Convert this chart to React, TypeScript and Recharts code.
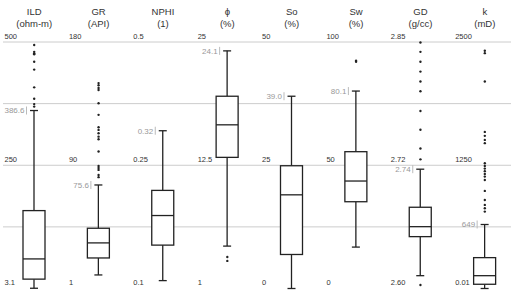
import React from 'react';
import { ComposedChart, Bar, Scatter, XAxis, YAxis, CartesianGrid } from 'recharts';

// one column per log curve, each with its own scale
const names = ['ILD', 'GR', 'NPHI', 'ϕ', 'So', 'Sw', 'GD', 'k'];
const units = ['(ohm-m)', '(API)', '(1)', '(%)', '(%)', '(%)', '(g/cc)', '(mD)'];
const scaleMin = [0, 0, 0, 0, 0, 0, 2.6, 0];
const scaleMax = [500, 180, 0.5, 25, 50, 100, 2.85, 2500];
const tickTop = ['500', '180', '0.5', '25', '50', '100', '2.85', '2500'];
const tickMid = ['250', '90', '0.25', '12.5', '25', '50', '2.72', '1250'];
const tickBottom = ['3.1', '1', '0.1', '1', '0', '0', '2.60', '0.01'];

const whiskerLow = [0.5, 9.9, 0.016, 4.3, 0, 16.8, 2.613, 0.01];
const q1 = [19, 22.3, 0.088, 13.3, 6.9, 35.2, 2.6526, 43];
const median = [60, 33.3, 0.148, 16.6, 19.0, 43.6, 2.6627, 130];
const q3 = [158, 44, 0.199, 19.5, 24.9, 55.5, 2.6824, 313];
const whiskerHigh = [361, 75.6, 0.32, 24.1, 39.0, 80.1, 2.721, 649];
const whiskerLabel = ['386.6', '75.6', '0.32', '24.1', '39.0', '80.1', '2.74', '649'];

const ildOut = [494, 480, 477, 475, 460, 444, 408, 385, 374, 369];
const grOut = [150, 148.4, 146.5, 145, 135.3, 126.8, 117.8, 115.8, 113.4, 110.9, 109, 100, 89.5, 88, 86.6, 82.9, 81.3];
const nphiOut: number[] = [];
const phiOut = [3.2, 2.8];
const soOut: number[] = [];
const swOut = [92.4, 92.0];
const gdOut = [2.8495, 2.84, 2.83, 2.82, 2.81, 2.8, 2.78, 2.761, 2.742, 2.731, 2.6035];
const kOut = [2411, 2387, 2099, 1588, 1548, 1507, 1474, 1271, 1243, 1216, 1190, 1162, 1135, 1101, 990, 898, 848, 814, 780];
const outliers = [ildOut, grOut, nphiOut, phiOut, soOut, swOut, gdOut, kOut];

const FONT = '"Liberation Sans", Arial, sans-serif';

const norm = (i: number, v: number) => (v - scaleMin[i]) / (scaleMax[i] - scaleMin[i]);

const data = names.map((name, i) => ({
  name,
  idx: i,
  range: [norm(i, whiskerLow[i]), norm(i, whiskerHigh[i])],
  lo: norm(i, whiskerLow[i]),
  q1: norm(i, q1[i]),
  med: norm(i, median[i]),
  q3: norm(i, q3[i]),
  hi: norm(i, whiskerHigh[i]),
}));

const outlierPoints = names.flatMap((name, i) => outliers[i].map((v) => ({ name, f: norm(i, v) })));

const BoxShape = (props: any) => {
  const { x, y, width, height, payload } = props;
  const { lo, hi, idx } = payload;
  const top = Math.min(y, y + height);
  const bot = Math.max(y, y + height);
  // map a 0..1 fraction to pixels using the bar's own extent
  const pix = (f: number) => top + ((hi - f) / (hi - lo)) * (bot - top);
  const cx = x + width / 2;
  const stroke = '#222';
  const cap = 4;
  return (
    <g>
      <line x1={cx} x2={cx} y1={pix(hi)} y2={pix(payload.q3)} stroke={stroke} strokeWidth={1.3} />
      <line x1={cx} x2={cx} y1={pix(payload.q1)} y2={pix(lo)} stroke={stroke} strokeWidth={1.3} />
      <line x1={cx - cap} x2={cx + cap} y1={pix(hi)} y2={pix(hi)} stroke={stroke} strokeWidth={1.3} />
      <line x1={cx - cap} x2={cx + cap} y1={pix(lo)} y2={pix(lo)} stroke={stroke} strokeWidth={1.3} />
      <rect x={x} y={pix(payload.q3)} width={width} height={pix(payload.q1) - pix(payload.q3)} fill="#fff" stroke={stroke} strokeWidth={1.3} />
      <line x1={x} x2={x + width} y1={pix(payload.med)} y2={pix(payload.med)} stroke={stroke} strokeWidth={1.3} />
      <text x={cx - 29.5} y={pix(1) - 3.5} fontSize={7.5} fill="#333" fontFamily={FONT}>{tickTop[idx]}</text>
      <text x={cx - 29.5} y={pix(0.5) - 3.5} fontSize={7.5} fill="#333" fontFamily={FONT}>{tickMid[idx]}</text>
      <text x={cx - 29.5} y={pix(0) - 3.5} fontSize={7.5} fill="#333" fontFamily={FONT}>{tickBottom[idx]}</text>
      <text x={cx - 9.5} y={pix(hi) + 2.8} fontSize={8} fill="#999" textAnchor="end" fontFamily={FONT}>{whiskerLabel[idx]}</text>
      <line x1={cx - 7.5} x2={cx - 7.5} y1={pix(hi) - 4} y2={pix(hi) + 4} stroke="#bbb" strokeWidth={1} />
    </g>
  );
};

const TitleTick = (props: any) => {
  const { x, payload } = props;
  const i = names.indexOf(payload.value);
  return (
    <g>
      <text x={x} y={15} textAnchor="middle" fontSize={9.5} fill="#333" fontFamily={FONT}>{payload.value}</text>
      <text x={x} y={26.5} textAnchor="middle" fontSize={9.5} fill="#333" fontFamily={FONT}>{units[i]}</text>
    </g>
  );
};

const Dot = (props: any) => <circle cx={props.cx} cy={props.cy} r={1.2} fill="#222" />;

const App: React.FC = () => {
  return (
    <div style={{ position: 'absolute', left: 0, top: 0, background: '#fff' }}>
      <ComposedChart width={522} height={295} data={data} margin={{ top: 12, right: 5, bottom: 6.5, left: 2 }}>
        <CartesianGrid
          vertical={false}
          horizontalValues={[0, 0.25, 0.5, 0.75, 1]}
          horizontal={(p: any) => (
            <line key={p.key ?? `h-${p.index}`} x1={p.x1 + 1} x2={p.x2 - 6} y1={p.y1} y2={p.y2} stroke="#ccc" strokeWidth={1} />
          )}
        />
        <XAxis
          dataKey="name"
          orientation="top"
          height={30}
          allowDuplicatedCategory={false}
          axisLine={false}
          tickLine={false}
          interval={0}
          tick={<TitleTick />}
        />
        <YAxis type="number" domain={[0, 1]} hide />
        <Bar dataKey="range" barSize={22} shape={<BoxShape />} isAnimationActive={false} />
        <Scatter data={outlierPoints} dataKey="f" shape={<Dot />} isAnimationActive={false} />
      </ComposedChart>
    </div>
  );
};

export default App;
